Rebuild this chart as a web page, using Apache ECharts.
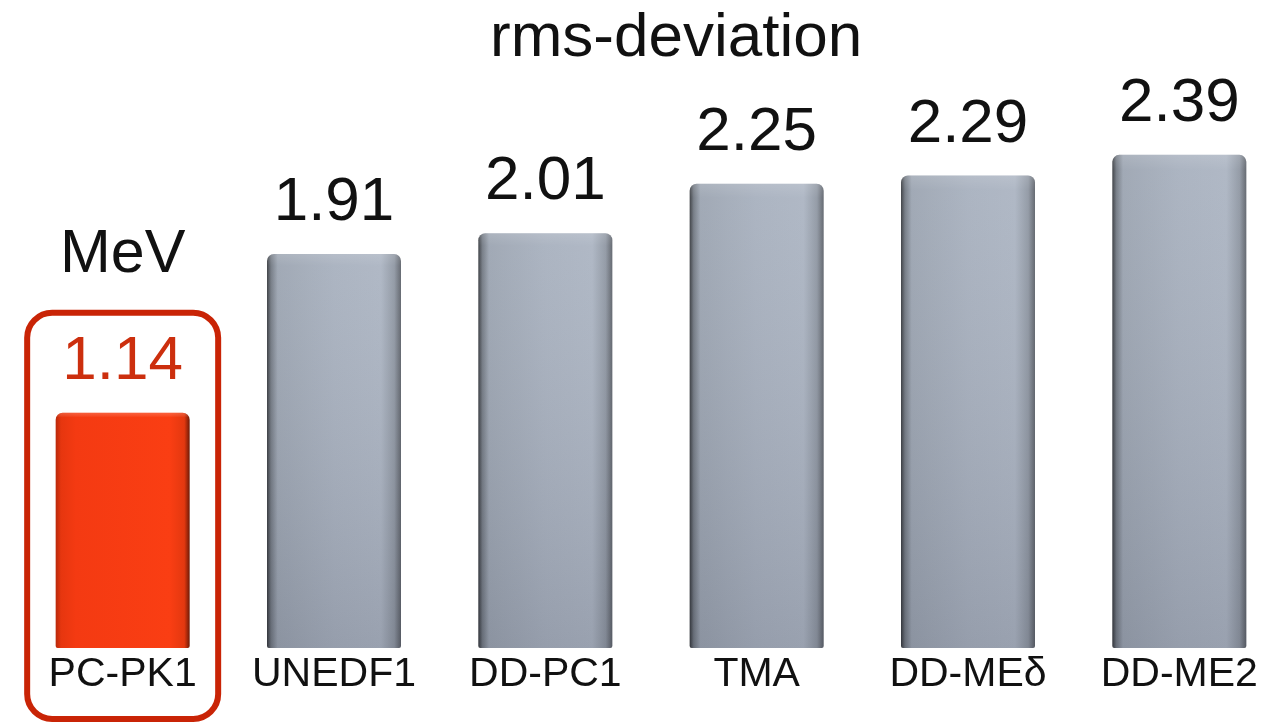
<!DOCTYPE html>
<html>
<head>
<meta charset="utf-8">
<script src="https://cdn.jsdelivr.net/npm/echarts@6/dist/echarts.min.js"></script>
<style>
  html, body { margin: 0; padding: 0; background: #fff; }
  #chart { width: 1286px; height: 723px; }
</style>
</head>
<body>
<div id="chart"></div>
<script>
// rms deviations (MeV) of several nuclear density functionals
const models = ['PC-PK1', 'UNEDF1', 'DD-PC1', 'TMA', 'DD-MEδ', 'DD-ME2'];
const rmsDeviation = [1.14, 1.91, 2.01, 2.25, 2.29, 2.39];
const highlightModel = 'PC-PK1';
const unitLabel = 'MeV';
const titleText = 'rms-deviation';

const FONT = '"Liberation Sans", Arial, Helvetica, sans-serif';

// horizontal shading gives the bars a rounded, extruded look
const grayFill = new echarts.graphic.LinearGradient(0, 0, 1, 0, [
  { offset: 0.00, color: '#34373c' },
  { offset: 0.03, color: '#6f7680' },
  { offset: 0.08, color: '#9aa3b0' },
  { offset: 0.50, color: '#a6afbd' },
  { offset: 0.85, color: '#aab3c1' },
  { offset: 0.95, color: '#8d95a1' },
  { offset: 1.00, color: '#5b6068' }
]);
const redFill = new echarts.graphic.LinearGradient(0, 0, 1, 0, [
  { offset: 0.00, color: '#b8290b' },
  { offset: 0.04, color: '#e6360f' },
  { offset: 0.15, color: '#f43a12' },
  { offset: 0.85, color: '#fa3e13' },
  { offset: 0.96, color: '#e3380f' },
  { offset: 1.00, color: '#6e1a06' }
]);
// vertical light-to-dark wash laid over the gray bars
const shadeFill = new echarts.graphic.LinearGradient(0, 0, 0, 1, [
  { offset: 0.00, color: 'rgba(255,255,255,0.18)' },
  { offset: 0.03, color: 'rgba(255,255,255,0.07)' },
  { offset: 1.00, color: 'rgba(40,40,55,0.13)' }
]);
const redTopFill = new echarts.graphic.LinearGradient(0, 0, 0, 1, [
  { offset: 0.00, color: 'rgba(255,200,180,0.25)' },
  { offset: 0.02, color: 'rgba(255,255,255,0)' },
  { offset: 1.00, color: 'rgba(255,255,255,0)' }
]);

const hiIndex = models.indexOf(highlightModel);

const barData = rmsDeviation.map((v, i) => {
  const hi = i === hiIndex;
  return {
    value: v,
    itemStyle: { color: hi ? redFill : grayFill },
    label: { color: hi ? '#cc2f0e' : '#111111' }
  };
});

const shadeData = rmsDeviation.map((v, i) => ({
  value: v,
  itemStyle: { color: i === hiIndex ? redTopFill : shadeFill }
}));

const chart = echarts.init(document.getElementById('chart'));

chart.setOption({
  backgroundColor: '#ffffff',
  animation: false,
  title: {
    text: titleText,
    left: 485,
    top: 3,
    textStyle: { fontFamily: FONT, fontSize: 62, fontWeight: 'normal', color: '#111' }
  },
  grid: { left: 17, right: 1, top: 29, bottom: 75, containLabel: false },
  xAxis: {
    type: 'category',
    data: models,
    axisLine: { show: false },
    axisTick: { show: false },
    axisLabel: {
      fontFamily: FONT, fontSize: 41, color: '#111', margin: 6, interval: 0
    }
  },
  yAxis: {
    type: 'value',
    min: 0, max: 3,
    show: false
  },
  series: [
    {
      type: 'bar',
      data: barData,
      barWidth: 134,
      barGap: '-100%',
      itemStyle: { borderRadius: [7, 7, 2, 2] },
      label: {
        show: true,
        position: 'top',
        distance: 20,
        fontFamily: FONT,
        fontSize: 62,
        formatter: p => p.value.toFixed(2)
      },
      z: 2
    },
    {
      type: 'bar',
      data: shadeData,
      barWidth: 134,
      barGap: '-100%',
      silent: true,
      itemStyle: { borderRadius: [7, 7, 2, 2] },
      z: 3
    }
  ]
});

// highlight frame and unit caption around the best-performing model
const cx = chart.convertToPixel({ xAxisIndex: 0 }, hiIndex);
const yTop = chart.convertToPixel({ yAxisIndex: 0 }, rmsDeviation[hiIndex]);
const halfW = 95.5;
chart.setOption({
  graphic: [
    {
      type: 'rect',
      shape: { x: cx - halfW, y: yTop - 100, width: halfW * 2, height: 719 - (yTop - 100), r: 25 },
      style: { fill: 'none', stroke: '#c92406', lineWidth: 6 },
      z: 10
    },
    {
      type: 'text',
      x: cx,
      y: yTop - 158,
      style: {
        text: unitLabel,
        font: '61px ' + FONT,
        fill: '#111',
        align: 'center',
        verticalAlign: 'middle'
      },
      z: 10
    }
  ]
});
</script>
</body>
</html>
